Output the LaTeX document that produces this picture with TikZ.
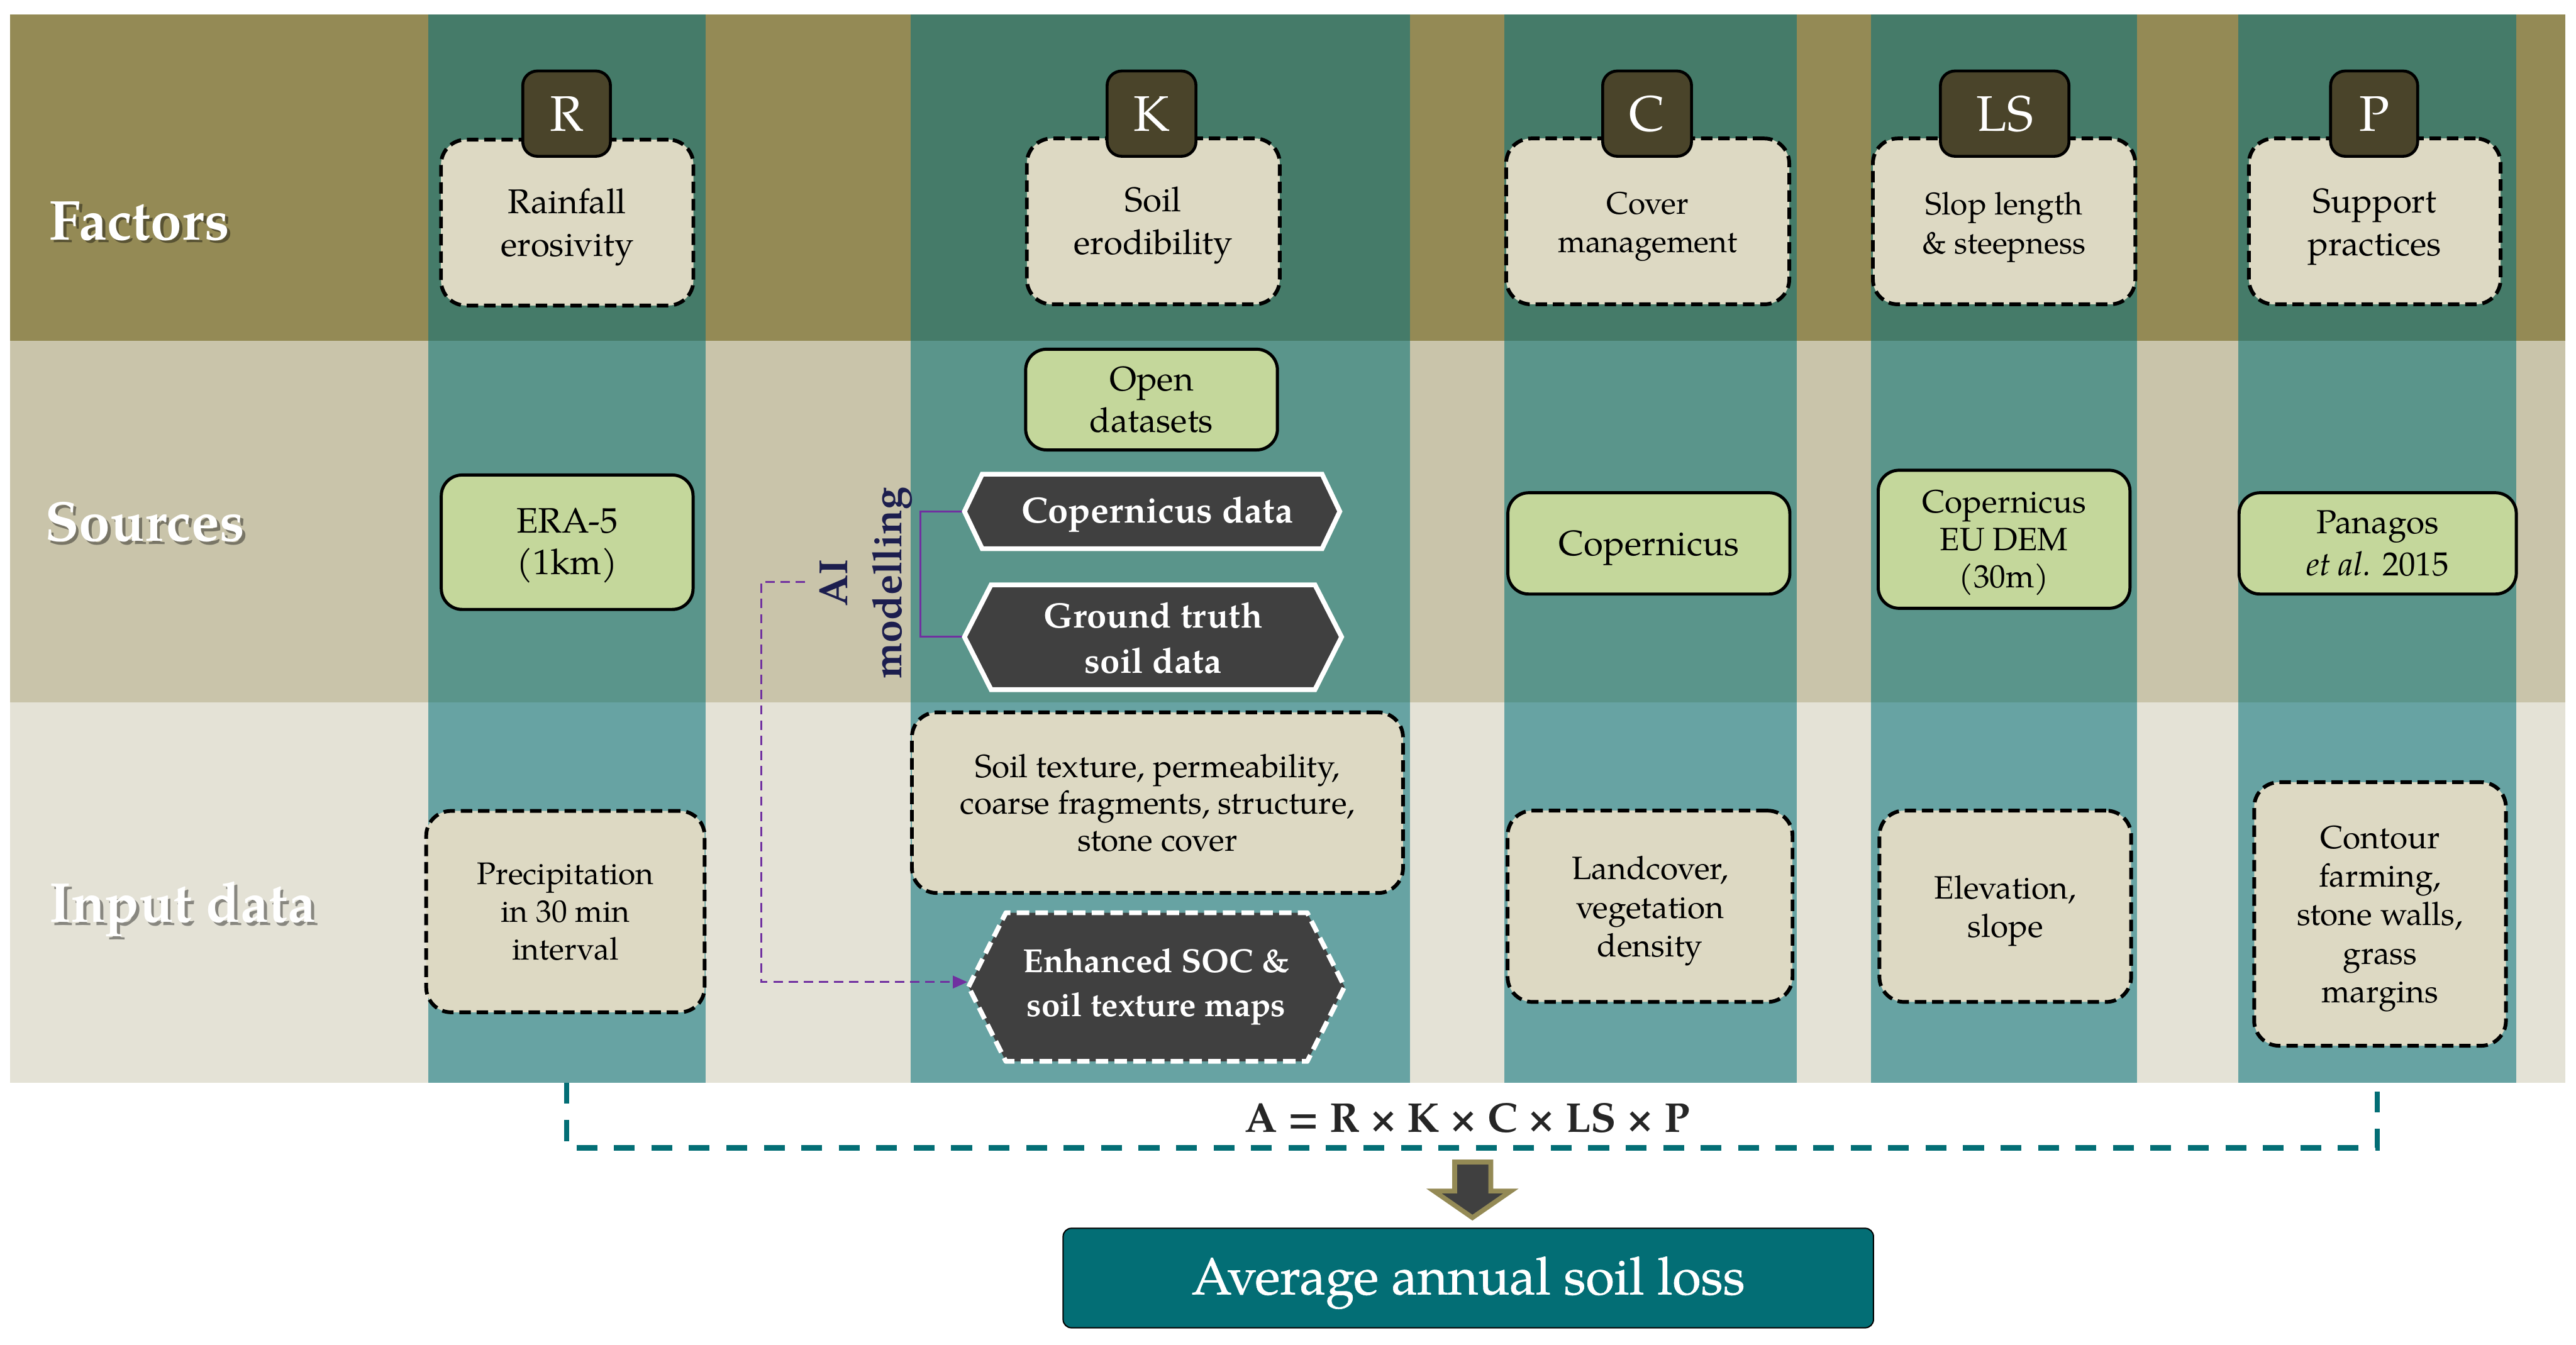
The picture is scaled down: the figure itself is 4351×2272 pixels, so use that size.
\documentclass[tikz,border=0pt]{standalone}
\usepackage{fontspec}
\setmainfont{texgyrepagella}[Extension=.otf,UprightFont=*-regular,BoldFont=*-bold,ItalicFont=*-italic,BoldItalicFont=*-bolditalic]
\newfontfamily\resfont{texgyrepagella-regular.otf}[FakeBold=0.8]
\usetikzlibrary{arrows.meta}
\definecolor{cRowF}{RGB}{148,138,85}
\definecolor{cRowS}{RGB}{201,196,170}
\definecolor{cRowI}{RGB}{228,226,214}
\definecolor{cColF}{RGB}{69,123,105}
\definecolor{cColS}{RGB}{90,149,139}
\definecolor{cColI}{RGB}{103,163,163}
\definecolor{cBox}{RGB}{221,217,195}
\definecolor{cLetter}{RGB}{74,68,42}
\definecolor{cGreen}{RGB}{196,215,155}
\definecolor{cHex}{RGB}{64,64,64}
\definecolor{cTeal}{RGB}{3,110,117}
\definecolor{cPurple}{RGB}{112,48,160}
\definecolor{cNavy}{RGB}{28,30,78}
\definecolor{cEq}{RGB}{38,38,38}
\newcommand\setfs[2]{\fontsize{#1}{#2}\selectfont}
\begin{document}
\begin{tikzpicture}[x=0.01cm,y=-0.01cm,
 fbox/.style={draw=black,line width=1.8pt,dash pattern=on 5.5pt off 2.8pt,fill=cBox,rounded corners=12pt,align=center,inner sep=0pt},
 letterbox/.style={draw=black,line width=1.4pt,fill=cLetter,rounded corners=7pt,text=white,font=\setfs{24}{28},inner sep=0pt,minimum height=1.44cm},
 gbox/.style={draw=black,line width=1.5pt,fill=cGreen,rounded corners=10pt,align=center,inner sep=0pt},
 boxtext/.style={align=center,inner sep=0pt},
 hexshape/.style={fill=cHex,draw=white,line width=2.3pt,line join=miter},
 hextext/.style={text=white,align=center,inner sep=0pt},
 rowlabel/.style={text=white,anchor=base west,font=\bfseries\setfs{27}{32},inner sep=0pt},
 rowshadow/.style={text=black,opacity=0.4,anchor=base west,font=\bfseries\setfs{27}{32},inner sep=0pt},
 purpleline/.style={draw=cPurple,line width=0.9pt},
 purpledash/.style={draw=cPurple,line width=0.9pt,dash pattern=on 4.5pt off 2.8pt},
 tealdash/.style={draw=cTeal,line width=2.5pt,dash pattern=on 10pt off 8pt}
]
\useasboundingbox (0,0) rectangle (4351,2272);
\fill[white] (0,0) rectangle (4351,2272);
% row bands
\fill[cRowF] (17,24) rectangle (4333,576);
\fill[cRowS] (17,576) rectangle (4333,1186);
\fill[cRowI] (17,1186) rectangle (4333,1829);
% factor columns
\foreach \a/\b in {723/1192,1538/2382,2541/3035,3160/3609,3781/4250}{
  \fill[cColF] (\a,24) rectangle (\b,576);
  \fill[cColS] (\a,576) rectangle (\b,1186);
  \fill[cColI] (\a,1186) rectangle (\b,1829);
}
% row labels
\node[rowshadow] (factorsSh) at (88,410) {Factors};
\node[rowlabel] (factors) at (83,405) {Factors};
\node[rowshadow] (sourcesSh) at (80,919) {Sources};
\node[rowlabel] (sources) at (75,914) {Sources};
\node[rowshadow] (inputSh) at (88,1563) {Input data};
\node[rowlabel] (input) at (83,1558) {Input data};

% factor boxes
\node[fbox,minimum width=4.26cm,minimum height=2.8cm] (fR) at (958,376) {};
\node[boxtext,font=\setfs{16.5}{20.5}] (fRt) at (958,384) {Rainfall\\erosivity};
\node[letterbox,minimum width=1.48cm] (lR) at (957,192) {R};
\node[fbox,minimum width=4.27cm,minimum height=2.8cm] (fK) at (1948,374) {};
\node[boxtext,font=\setfs{16.5}{20.5}] (fKt) at (1948,381) {Soil\\erodibility};
\node[letterbox,minimum width=1.50cm] (lK) at (1945,192) {K};
\node[fbox,minimum width=4.78cm,minimum height=2.8cm] (fC) at (2783,374) {};
\node[boxtext,font=\setfs{15}{18.5}] (fCt) at (2783,383) {Cover\\management};
\node[letterbox,minimum width=1.50cm] (lC) at (2782,192) {C};
\node[fbox,minimum width=4.43cm,minimum height=2.8cm] (fLS) at (3385,374) {};
\node[boxtext,font=\setfs{15}{18.5}] (fLSt) at (3385,384) {Slop length\\\& steepness};
\node[letterbox,minimum width=2.17cm] (lLS) at (3386,192) {LS};
\node[fbox,minimum width=4.25cm,minimum height=2.8cm] (fP) at (4011,374) {};
\node[boxtext,font=\setfs{16.5}{20.5}] (fPt) at (4011,383) {Support\\practices};
\node[letterbox,minimum width=1.47cm] (lP) at (4010,192) {P};

% sources
\node[gbox,minimum width=4.25cm,minimum height=2.27cm] (era) at (958,916) {};
\node[boxtext,font=\setfs{17}{20}] (erat) at (958,922) {ERA-5\\(1km)};
\node[gbox,minimum width=4.25cm,minimum height=1.70cm,font=\setfs{16.5}{20}] (open) at (1945,675) {Open\\datasets};
\coordinate (copW) at (1629,864);
\coordinate (gtW) at (1629,1076);
\draw[purpleline] (copW) -- ++(-74,0) |- (gtW);
\draw[hexshape] (copW) -- (1659,801) -- (2233,801) -- (2263,864) -- (2233,927) -- (1659,927) -- cycle;
\node[hextext,font=\bfseries\setfs{17.5}{21}] (cop) at (1955,869) {Copernicus data};
\draw[hexshape] (gtW) -- (1674,988) -- (2221,988) -- (2266,1076) -- (2221,1165) -- (1674,1165) -- cycle;
\node[hextext,font=\bfseries\setfs{17}{21.6}] (gt) at (1948,1078) {Ground truth\\soil data};
\node[gbox,minimum width=4.76cm,minimum height=1.71cm] (copc) at (2785,918) {};
\node[boxtext,font=\setfs{17}{20}] (copct) at (2785,926) {Copernicus};
\node[gbox,minimum width=4.25cm,minimum height=2.33cm] (dem) at (3385,911) {};
\node[boxtext,font=\setfs{15.5}{18}] (demt) at (3385,917) {Copernicus\\EU DEM\\(30m)};
\node[gbox,minimum width=4.68cm,minimum height=1.71cm,font=\setfs{16}{20.4}] (pan) at (4016,918) {Panagos\\\textit{et al.} 2015};

% AI modelling
\node[rotate=90,align=center,text=cNavy,font=\bfseries\setfs{19.5}{26},inner sep=0pt] (ai) at (1463,985) {AI\\modelling};
\coordinate (aiS) at (1360,983);
\coordinate (enhIn) at (1634,1659);
\draw[purpledash,-{Triangle[length=7pt,width=6pt]}] (aiS) -- ++(-74,0) |- (enhIn);

% input data
\node[fbox,minimum width=4.70cm,minimum height=3.40cm,font=\setfs{15}{18}] (prec) at (955,1540) {Precipitation\\in 30 min\\interval};
\node[fbox,minimum width=8.29cm,minimum height=3.05cm,font=\setfs{15.5}{17.7}] (soil) at (1955,1356) {Soil texture, permeability,\\coarse fragments, structure,\\stone cover};
\draw[hexshape,dash pattern=on 6pt off 3pt,line join=round] (1636,1667) -- (1699,1542) -- (2208,1542) -- (2271,1667) -- (2208,1793) -- (1699,1793) -- cycle;
\node[hextext,font=\bfseries\setfs{16}{21}] (enh) at (1953,1667) {Enhanced SOC \&\\soil texture maps};
\node[fbox,minimum width=4.81cm,minimum height=3.23cm] (land) at (2787,1531) {};
\node[boxtext,font=\setfs{15.5}{18.5}] (landt) at (2787,1539) {Landcover,\\vegetation\\density};
\node[fbox,minimum width=4.25cm,minimum height=3.23cm] (elev) at (3387,1531) {};
\node[boxtext,font=\setfs{15.5}{18.5}] (elevt) at (3387,1539) {Elevation,\\slope};
\node[fbox,minimum width=4.25cm,minimum height=4.45cm] (cont) at (4020,1544) {};
\node[boxtext,font=\setfs{15.5}{18.5}] (contt) at (4020,1552) {Contour\\farming,\\stone walls,\\grass\\margins};

% equation frame
\coordinate (eqL) at (957,1829);
\coordinate (eqR) at (4015,1829);
\draw[tealdash] (eqL) -- ++(0,110) -| (eqR);
\node[text=cEq,font=\bfseries\setfs{20}{24},inner sep=0pt] (eq) at (2478,1889) {A = R × K × C × LS × P};

% block arrow
\draw[fill=cHex,draw=cRowF,line width=2.3pt,line join=miter] (2457,1963) -- (2518,1963) -- (2518,2012) -- (2552,2012) -- (2487,2057) -- (2422,2012) -- (2457,2012) -- cycle;

% result
\node[draw=black,line width=0.6pt,fill=cTeal,rounded corners=4pt,minimum width=13.68cm,minimum height=1.68cm] (res) at (2480,2159) {};
\node[text=white,font=\resfont\setfs{25}{30},inner sep=0pt] (rest) at (2480,2167) {Average annual soil loss};
\end{tikzpicture}
\end{document}
